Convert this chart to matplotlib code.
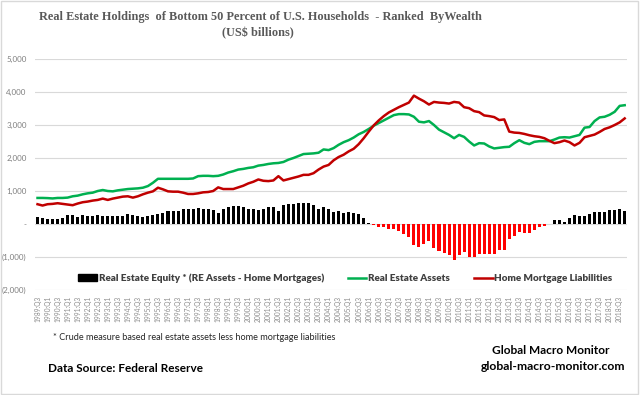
import numpy as np
import matplotlib
matplotlib.use("Agg")
import matplotlib.pyplot as plt
from matplotlib.patches import Patch, Rectangle
from matplotlib.lines import Line2D

# quarterly data, 1989:Q3 .. 2018:Q4 (US$ billions)
start_year, start_q = 1989, 3

re_assets = [
    790, 790, 785, 775, 790, 790, 800, 840, 860, 900,
    930, 950, 1000, 1030, 1000, 990, 1020, 1040, 1060, 1070,
    1080, 1100, 1150, 1250, 1370, 1370, 1370, 1370, 1370, 1370,
    1370, 1380, 1450, 1460, 1460, 1450, 1460, 1500, 1560, 1600,
    1650, 1670, 1700, 1720, 1770, 1790, 1820, 1840, 1850, 1880,
    1950, 2000, 2060, 2120, 2130, 2140, 2160, 2260, 2240, 2300,
    2400, 2480, 2540, 2620, 2720, 2790, 2880, 2980, 3060, 3140,
    3220, 3300, 3330, 3330, 3320, 3250, 3100, 3080, 3120, 3000,
    2860, 2780, 2700, 2600, 2700, 2640, 2500, 2380, 2450, 2440,
    2350, 2290, 2310, 2330, 2340, 2450, 2540, 2460, 2420, 2490,
    2510, 2510, 2510, 2560, 2620, 2630, 2620, 2660, 2700, 2920,
    2940, 3120, 3230, 3250, 3310, 3400, 3580, 3600,
]

mortgages = [
    600, 560, 600, 610, 630, 610, 590, 570, 620, 660,
    680, 710, 730, 770, 730, 770, 800, 830, 840, 800,
    840, 900, 950, 990, 1100, 1050, 990, 980, 980, 950,
    910, 910, 930, 960, 970, 1000, 1110, 1060, 1060, 1060,
    1110, 1160, 1230, 1280, 1350, 1310, 1300, 1320, 1450, 1320,
    1360, 1400, 1440, 1490, 1490, 1540, 1650, 1740, 1790, 1930,
    2030, 2100, 2200, 2280, 2420, 2600, 2800, 2990, 3140, 3270,
    3380, 3460, 3540, 3610, 3680, 3890, 3800, 3720, 3620, 3700,
    3680, 3670, 3650, 3700, 3680, 3540, 3510, 3420, 3390, 3290,
    3270, 3240, 3150, 3170, 2800, 2770, 2760, 2730, 2690, 2660,
    2640, 2600, 2520, 2450, 2480, 2530, 2480, 2380, 2460, 2630,
    2670, 2710, 2790, 2880, 2930, 3000, 3080, 3200,
]

equity = [
    200, 170, 160, 160, 160, 180, 260, 260, 220, 260,
    250, 250, 260, 230, 240, 230, 240, 230, 290, 270,
    230, 210, 230, 270, 290, 330, 390, 390, 380, 450,
    470, 470, 480, 470, 470, 430, 340, 450, 510, 560,
    540, 530, 470, 460, 430, 460, 510, 510, 380, 580,
    600, 600, 630, 630, 630, 580, 440, 510, 460, 360,
    400, 330, 350, 330, 300, 180, 30, -30, -90, -100,
    -150, -150, -220, -300, -400, -650, -700, -600, -520, -720,
    -820, -880, -950, -1080, -950, -860, -1010, -1010, -900, -920,
    -910, -920, -800, -780, -460, -370, -240, -270, -270, -170,
    -100, -50, -10, 110, 130, 70, 180, 260, 250, 250,
    300, 360, 370, 360, 430, 420, 450, 380,
]

n = len(re_assets)
quarters = []
y, q = start_year, start_q
for _ in range(n):
    quarters.append(f"{y}:Q{q}")
    q += 1
    if q > 4:
        q = 1
        y += 1

x = np.arange(n)
eq = np.array(equity)

fig = plt.figure(figsize=(6.4, 3.95), dpi=100)
ax = fig.add_axes([0.0547, 0.2658, 0.9253, 0.5848])

bar_colors = ["#000000" if v >= 0 else "#ff0000" for v in eq]
ax.bar(x, eq, width=0.6, color=bar_colors, zorder=2)
ax.plot(x, re_assets, color="#00b050", lw=1.8, zorder=3)
ax.plot(x, mortgages, color="#c00000", lw=1.8, zorder=3)

ax.set_xlim(-0.5, n - 0.5)
ax.set_ylim(-2000, 5000)
ax.set_yticks(range(-2000, 5001, 1000))


def yfmt(v):
    if v == 0:
        return "-"
    if v < 0:
        return f"({-v:,.0f})"
    return f"{v:,.0f}"


ax.set_yticklabels([yfmt(v) for v in range(-2000, 5001, 1000)],
                   fontsize=5.8, color="#7f7f7f", family="Lato")
ax.set_xticks(x[::2])
ax.set_xticklabels(quarters[::2], rotation=90, fontsize=4.8,
                   color="#8c8c8c", family="Lato")
ax.tick_params(length=0, pad=4)
ax.tick_params(axis="y", pad=6)
ax.grid(axis="y", color="#d9d9d9", lw=0.8, zorder=0)
for s in ax.spines.values():
    s.set_visible(False)

handles = [
    Patch(facecolor="black", edgecolor="black"),
    Line2D([], [], color="#00b050", lw=1.8),
    Line2D([], [], color="#c00000", lw=1.8),
]
labels = [
    "Real Estate Equity * (RE Assets - Home Mortgages)",
    "Real Estate Assets",
    "Home Mortgage Liabilities",
]
leg = ax.legend(handles, labels, ncol=3, loc="center",
                bbox_to_anchor=(0.524, 0.05), frameon=False,
                prop={"family": "Lato", "weight": "heavy", "size": 7.1},
                labelcolor="#404040", handlelength=1.9,
                handletextpad=0.2, columnspacing=2.4)

fig.text(0.407, 0.957, "Real Estate Holdings  of Bottom 50 Percent of U.S. Households  - Ranked  ByWealth",
         ha="center", va="center", family="Liberation Serif", weight="bold",
         fontsize=8.8, color="#595959")
fig.text(0.403, 0.916, "(US$ billions)", ha="center", va="center",
         family="Liberation Serif", weight="bold", fontsize=8.8, color="#595959")

fig.text(0.083, 1 - 338 / 395, "* Crude measure based real estate assets less home mortgage liabilities",
         ha="left", va="center", family="Lato", fontsize=6.6, color="#262626")
fig.text(0.075, 1 - 369 / 395, "Data Source: Federal Reserve", ha="left", va="center",
         family="Lato", weight="bold", fontsize=8.5, color="#000000")
fig.text(0.861, 1 - 350 / 395, "Global Macro Monitor", ha="center", va="center",
         family="Lato", weight="bold", fontsize=8.6, color="#000000")
fig.text(0.864, 1 - 366 / 395, "global-macro-monitor.com", ha="center", va="center",
         family="Lato", weight="bold", fontsize=8.7, color="#000000")

fig.patches.append(Rectangle((0.002, 0.003), 0.995, 0.994, transform=fig.transFigure,
                             fill=False, edgecolor="#d9d9d9", lw=1))

fig.savefig("out.png", dpi=100)
